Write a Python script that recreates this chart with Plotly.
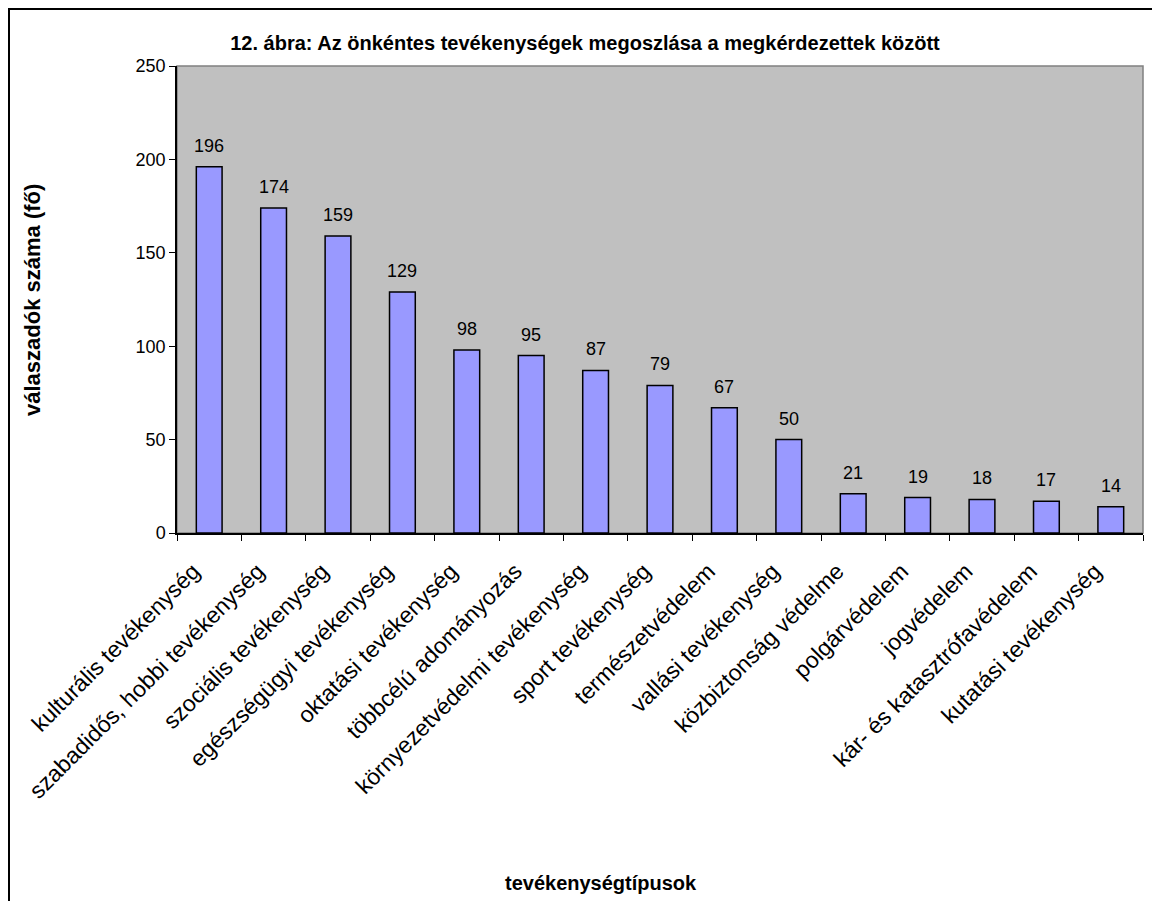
import plotly.graph_objects as go

categories = [
    "kulturális tevékenység",
    "szabadidős, hobbi tevékenység",
    "szociális tevékenység",
    "egészségügyi tevékenység",
    "oktatási tevékenység",
    "többcélú adományozás",
    "környezetvédelmi tevékenység",
    "sport tevékenység",
    "természetvédelem",
    "vallási tevékenység",
    "közbiztonság védelme",
    "polgárvédelem",
    "jogvédelem",
    "kár- és katasztrófavédelem",
    "kutatási tevékenység",
]
values = [196, 174, 159, 129, 98, 95, 87, 79, 67, 50, 21, 19, 18, 17, 14]
y_ticks = [0, 50, 100, 150, 200, 250]

OFF = 8  # default page body margin
W, H = 1152, 893
L, T = 177 - OFF, 66 - OFF
R = W - (1143 - OFF)
B = H - (533 - OFF)
pw, ph = W - L - R, H - T - B


def px_x(p):
    return (p - OFF - L) / pw


def px_y(p):
    return (H - B - (p - OFF)) / ph


font = "Liberation Sans, Arial, sans-serif"

fig = go.Figure(go.Bar(
    x=categories, y=values,
    marker=dict(color="#9999FF", line=dict(color="black", width=1.5)),
    cliponaxis=False,
))

label_annotations = [
    dict(x=c, y=v, xref="x", yref="y", text=str(v), showarrow=False,
         yanchor="middle", xanchor="center", yshift=21,
         font=dict(family=font, size=18, color="black"))
    for c, v in zip(categories, values)
]

fig.update_layout(
    width=W, height=H,
    margin=dict(l=L, r=R, t=T, b=B, pad=0, autoexpand=False),
    paper_bgcolor="white", plot_bgcolor="#C0C0C0",
    bargap=0.6, showlegend=False,
    font=dict(family=font, color="black"),
    title=dict(text="<b>12. ábra: Az önkéntes tevékenységek megoszlása a megkérdezettek között</b>",
               x=(585 - OFF) / W, xanchor="center", y=1 - (43 - OFF) / H, yanchor="middle",
               font=dict(size=20, family=font, color="black")),
    xaxis=dict(type="category", showline=True, linecolor="black", linewidth=1.5,
               ticks="outside", tickson="boundaries", ticklen=6, tickcolor="black",
               tickangle=-45, tickfont=dict(size=23, family=font, color="black"),
               ticklabelstandoff=14, ticklabelshift=-16, automargin=False,
               showgrid=False),
    yaxis=dict(range=[0, 250], tickvals=y_ticks, showline=True, linecolor="black",
               linewidth=1.5, ticks="outside", ticklen=6, tickcolor="black",
               tickfont=dict(size=18, family=font, color="black"), showgrid=False,
               zeroline=False, automargin=False),
    shapes=[
        dict(type="rect", xref="paper", yref="paper", x0=0, x1=1, y0=0, y1=1,
             line=dict(color="#808080", width=1.5), layer="below"),
        dict(type="line", xref="paper", yref="paper", x0=px_x(9), x1=px_x(9),
             y0=px_y(8), y1=px_y(H + OFF + 5), line=dict(color="black", width=2)),
        dict(type="line", xref="paper", yref="paper", x0=px_x(8), x1=px_x(W + OFF + 5),
             y0=px_y(9), y1=px_y(9), line=dict(color="black", width=2)),
    ],
    annotations=label_annotations + [
        dict(text="<b>válaszadók száma (fő)</b>", xref="paper", yref="paper",
             x=px_x(32), y=px_y(300), textangle=-90, showarrow=False,
             xanchor="center", yanchor="middle",
             font=dict(size=22, family=font, color="black")),
        dict(text="<b>tevékenységtípusok</b>", xref="paper", yref="paper",
             x=px_x(601), y=px_y(883), showarrow=False,
             xanchor="center", yanchor="middle",
             font=dict(size=20, family=font, color="black")),
    ],
)

fig.write_html("out.html")
